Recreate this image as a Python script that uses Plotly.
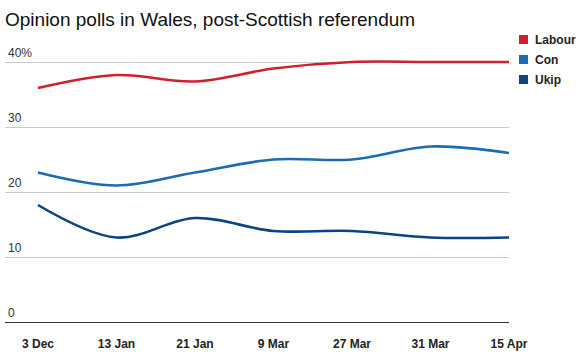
import plotly.graph_objects as go

categories = ["3 Dec", "13 Jan", "21 Jan", "9 Mar", "27 Mar", "31 Mar", "15 Apr"]
labour = [36, 38, 37, 39, 40, 40, 40]
con = [23, 21, 23, 25, 25, 27, 26]
ukip = [18, 13, 16, 14, 14, 13, 13]
series_names = ["Labour", "Con", "Ukip"]
series_colors = ["#d0202e", "#1d6bb1", "#0c4382"]
y_ticks = [0, 10, 20, 30, 40]
y_tick_labels = ["0", "10", "20", "30", "40%"]

xs = list(range(len(categories)))
fig = go.Figure()
for name, vals, col in zip(series_names, [labour, con, ukip], series_colors):
    fig.add_trace(go.Scatter(x=xs, y=vals, name=name, mode="lines",
                             line=dict(color=col, width=2.6, shape="spline", smoothing=1.0),
                             cliponaxis=False, showlegend=False, hoverinfo="skip"))

FONT = "Liberation Sans, Arial, Helvetica, sans-serif"

annotations = []
for v, t in zip(y_ticks, y_tick_labels):
    annotations.append(dict(x=0, xref="paper", y=v, yref="y", text=t, showarrow=False,
                            xanchor="left", yanchor="bottom", xshift=1, yshift=0,
                            font=dict(family=FONT, size=12, color="#333")))
shapes = []
for i, (name, col) in enumerate(zip(series_names, series_colors)):
    off = 19 - 20 * i
    shapes.append(dict(type="rect", xref="paper", yref="paper", xsizemode="pixel", ysizemode="pixel",
                       xanchor=1, yanchor=1, x0=10, x1=19, y0=off - 4, y1=off + 5,
                       fillcolor=col, line=dict(width=0)))
    annotations.append(dict(x=1, xref="paper", y=1, yref="paper", text="<b>" + name + "</b>",
                            showarrow=False, xanchor="left", yanchor="middle", xshift=24, yshift=off,
                            font=dict(family=FONT, size=12, color="#222")))

fig.update_layout(
    width=581, height=355,
    margin=dict(l=5, r=72, t=59, b=33),
    paper_bgcolor="white", plot_bgcolor="white",
    title=dict(text="Opinion polls in Wales, post-Scottish referendum", x=0, xref="paper",
               xanchor="left", y=0.965, yanchor="top",
               font=dict(family=FONT, size=19, color="#111")),
    xaxis=dict(range=[-0.42, 6], tickmode="array", tickvals=xs,
               ticktext=["<b>" + c + "</b>" for c in categories],
               showgrid=False, zeroline=False, showline=False, ticks="",
               ticklabelstandoff=13,
               tickfont=dict(family=FONT, size=12, color="#222")),
    yaxis=dict(range=[0, 40 + 3 / 6.5], tickvals=y_ticks, showticklabels=False, showgrid=True,
               gridcolor="#cccccc", gridwidth=1, zeroline=True, zerolinecolor="#333",
               zerolinewidth=1.2, showline=False),
    annotations=annotations, shapes=shapes,
    showlegend=False,
)
fig.write_html("out.html", config={"displayModeBar": False},
               post_script="document.body.style.margin='0';")
